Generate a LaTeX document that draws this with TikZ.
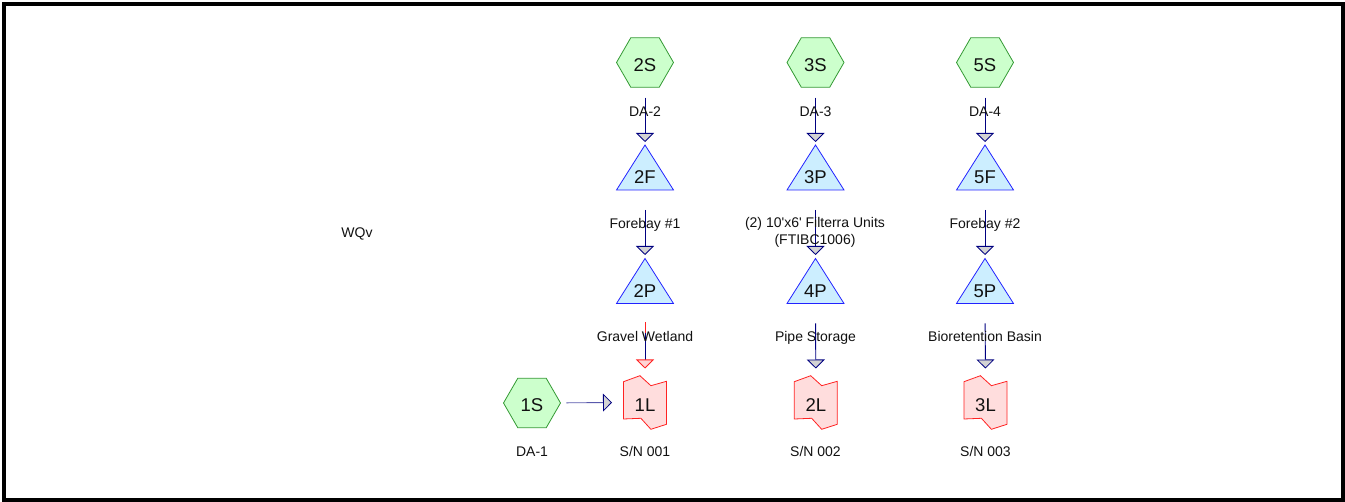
\documentclass[tikz,border=0pt]{standalone}
\usepackage{fontspec}
\setmainfont{Liberation Sans}[Ligatures=TeXOff]
\usetikzlibrary{shapes.geometric,arrows.meta}

\definecolor{hexfill}{HTML}{CCFFCC}
\definecolor{hexline}{HTML}{339933}
\definecolor{pondfill}{HTML}{CCEEFF}
\definecolor{pondline}{HTML}{2222FF}
\definecolor{linkfill}{HTML}{FFDDDD}
\definecolor{linkline}{HTML}{FF2222}
\definecolor{flowline}{HTML}{000080}
\definecolor{tipgray}{HTML}{D3D3D3}
\definecolor{tippink}{HTML}{FFD5D5}
\definecolor{textcol}{HTML}{111111}

\begin{document}
\begin{tikzpicture}[x=1pt,y=-1pt,
  subcat/.style={regular polygon, regular polygon sides=6, minimum size=57pt,
    inner sep=0pt, draw=hexline, fill=hexfill, line width=0.8pt},
  pondbox/.style={minimum width=57pt, minimum height=45pt, inner sep=0pt, outer sep=0pt},
  linkbox/.style={minimum width=43pt, minimum height=54pt, inner sep=0pt, outer sep=0pt},
  pondshape/.style={draw=pondline, fill=pondfill, line width=0.8pt, line join=miter},
  linkshape/.style={draw=linkline, fill=linkfill, line width=0.8pt, line join=miter},
  idtext/.style={font=\fontsize{18.5}{20}\selectfont, text=textcol, inner sep=0pt},
  lbl/.style={font=\fontsize{14}{17}\selectfont, text=textcol, inner sep=0pt, align=center},
  flow/.style={draw=flowline, line width=0.9pt,
    -{Triangle[width=18pt,length=9pt,fill=tipgray,color=flowline,line width=0.8pt]}},
  redflow/.style={draw=flowline, line width=0.9pt,
    -{Triangle[width=18pt,length=9pt,fill=tippink,color=linkline,line width=0.8pt]}},
]
\useasboundingbox (0,0) rectangle (1345,502);

% outer frame
\draw[line width=4pt] (4,4) rectangle (1343,500);

% ---- subcatchments (hexagons)
\node[subcat] (2S) at (645,62.5) {};
\node[subcat] (3S) at (815.5,62.5) {};
\node[subcat] (5S) at (985,62.5) {};
\node[subcat] (1S) at (532,403) {};
\node[idtext] (2S-id) at (645,65) {2S};
\node[idtext] (3S-id) at (815.5,65) {3S};
\node[idtext] (5S-id) at (985,65) {5S};
\node[idtext] (1S-id) at (532,405.5) {1S};

% ---- ponds / reaches (triangles)
\node[pondbox] (2F) at (645,167.5) {};
\node[pondbox] (3P) at (815.5,167.5) {};
\node[pondbox] (5F) at (985,167.5) {};
\node[pondbox] (2P) at (645,281) {};
\node[pondbox] (4P) at (815.5,281) {};
\node[pondbox] (5P) at (985,281) {};
\foreach \n in {2F,3P,5F,2P,4P,5P}{
  \draw[pondshape] (\n.south west) -- (\n.north) -- (\n.south east) -- cycle;
}
\node[idtext] (2F-id) at (645,177.5) {2F};
\node[idtext] (3P-id) at (815.5,177.5) {3P};
\node[idtext] (5F-id) at (985,177.5) {5F};
\node[idtext] (2P-id) at (645,291) {2P};
\node[idtext] (4P-id) at (815.5,291) {4P};
\node[idtext] (5P-id) at (985,291) {5P};

% ---- links (flag shapes)
\node[linkbox] (1L) at (645,402.5) {};
\node[linkbox] (2L) at (815.8,402.5) {};
\node[linkbox] (3L) at (985.5,402.5) {};
\foreach \n in {1L,2L,3L}{
  \draw[linkshape, shift={(\n.center)}]
    (-21.5,-20.8) -- (-5.1,-26.8) -- (5.9,-16.8) -- (21.5,-21.2)
    -- (21.5,21.8) -- (5.9,26.8) -- (-4.1,15.8) -- (-21.5,16.5) -- cycle;
}
\node[idtext] (1L-id) at (645,405) {1L};
\node[idtext] (2L-id) at (815.8,405) {2L};
\node[idtext] (3L-id) at (985.5,405) {3L};

% ---- flow connectors
\foreach \a/\b in {2S/2F,3S/3P,5S/5F}{
  \draw[flow, shorten <=10pt, shorten >=3pt] (\a) -- (\b.north);
}
\foreach \a/\b in {2F/2P,3P/4P,5F/5P}{
  \draw[flow, shorten <=20pt, shorten >=3.5pt] (\a.south) -- (\b.north);
}
\draw[redflow, shorten <=20pt, shorten >=7pt] (2P.south) -- (1L.north);
\foreach \a/\b in {4P/2L,5P/3L}{
  \draw[flow, shorten <=20pt, shorten >=7pt] (\a.south) -- (\b.north);
}
\coordinate (2P-r1) at ([yshift=-19pt]2P.south);
\coordinate (2P-r2) at ([yshift=-30pt]2P.south);
\draw[linkline, line width=0.9pt] (2P-r1) -- (2P-r2);
\draw[flow, draw=flowline!65, shorten <=5.5pt, shorten >=11.5pt] (1S) -- (1L.west);

% ---- labels
\node[lbl, anchor=base] (lDA2) at (645,116.8) {DA-2};
\node[lbl, anchor=base] (lDA3) at (815.5,116.8) {DA-3};
\node[lbl, anchor=base] (lDA4) at (985,116.8) {DA-4};
\node[lbl, anchor=base] (lFB1) at (645,228.8) {Forebay \#1};
\node[lbl] (lFT) at (815,232.5) {(2) 10'x6' Filterra Units\\(FTIBC1006)};
\node[lbl, anchor=base] (lFB2) at (985,228.8) {Forebay \#2};
\node[lbl, anchor=base] (lGW) at (645,341.5) {Gravel Wetland};
\node[lbl, anchor=base] (lPS) at (815.5,341.5) {Pipe Storage};
\node[lbl, anchor=base] (lBB) at (985,341.5) {Bioretention Basin};
\node[lbl, anchor=base] (lDA1) at (532,456.5) {DA-1};
\node[lbl, anchor=base] (lSN1) at (645,456.5) {S/N 001};
\node[lbl, anchor=base] (lSN2) at (815.5,456.5) {S/N 002};
\node[lbl, anchor=base] (lSN3) at (985.5,456.5) {S/N 003};
\node[lbl, anchor=base] (lWQv) at (357,238) {WQv};
\end{tikzpicture}
\end{document}
